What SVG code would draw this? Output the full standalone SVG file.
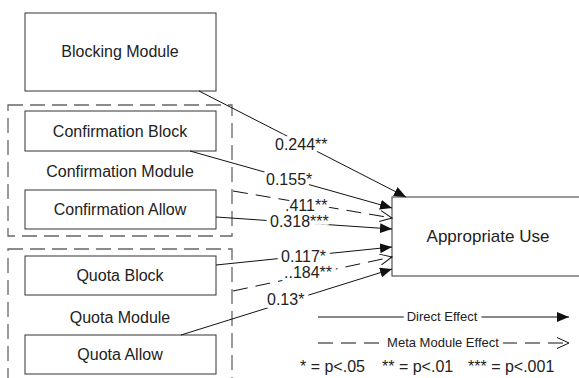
<svg xmlns="http://www.w3.org/2000/svg" width="579" height="378" viewBox="0 0 579 378">
<style>
  .box { fill: #fff; stroke: #333; stroke-width: 1; }
  .grp { fill: none; stroke: #666; stroke-width: 1.3; stroke-dasharray: 15 7; }
  .t { font-family: "Liberation Sans", Arial, sans-serif; font-size: 16px; fill: #222; text-anchor: middle; }
  .lbl { font-family: "Liberation Sans", Arial, sans-serif; font-size: 16px; fill: #222; paint-order: stroke; stroke: #fff; stroke-width: 8; stroke-linejoin: round; }
  .leg { font-family: "Liberation Sans", Arial, sans-serif; font-size: 13px; fill: #222; text-anchor: middle; paint-order: stroke; stroke: #fff; stroke-width: 8; }
  .note { font-family: "Liberation Sans", Arial, sans-serif; font-size: 16px; fill: #222; }
  .solid { fill: none; stroke: #111; stroke-width: 1; marker-end: url(#arr); }
  .dash { fill: none; stroke: #111; stroke-width: 1; stroke-dasharray: 15 8; marker-end: url(#chev); }
</style>
<defs>
  <marker id="arr" markerUnits="userSpaceOnUse" markerWidth="12" markerHeight="10" refX="12" refY="5" orient="auto">
    <path d="M0,0 L12,5 L0,10 z" fill="#111"/>
  </marker>
  <marker id="chev" markerUnits="userSpaceOnUse" markerWidth="13" markerHeight="12" refX="12" refY="6" orient="auto">
    <path d="M0,0.5 L12,6 L0,11.5" fill="none" stroke="#111" stroke-width="1"/>
  </marker>
</defs>

<g id="confirmation-module">
  <rect class="grp" x="8" y="105" width="224" height="131"/>
  <text class="t" x="120" y="177">Confirmation Module</text>
</g>
<g id="quota-module">
  <rect class="grp" x="8" y="249" width="224" height="140"/>
  <text class="t" x="120" y="323">Quota Module</text>
</g>

<g id="blocking-module">
  <rect class="box" x="25" y="13" width="191" height="78"/>
  <text class="t" x="120" y="57">Blocking Module</text>
</g>
<g id="confirmation-block">
  <rect class="box" x="25" y="111" width="191" height="40"/>
  <text class="t" x="120" y="137">Confirmation Block</text>
</g>
<g id="confirmation-allow">
  <rect class="box" x="25" y="190" width="191" height="39"/>
  <text class="t" x="120" y="215">Confirmation Allow</text>
</g>
<g id="quota-block">
  <rect class="box" x="25" y="256" width="191" height="39"/>
  <text class="t" x="120" y="281">Quota Block</text>
</g>
<g id="quota-allow">
  <rect class="box" x="25" y="335" width="191" height="39"/>
  <text class="t" x="120" y="360">Quota Allow</text>
</g>
<g id="appropriate-use">
  <rect class="box" x="392" y="197" width="200" height="79"/>
  <text class="t" x="488" y="242" style="font-size:17px">Appropriate Use</text>
</g>

<g id="connectors">
  <path class="solid" d="M199,91 L406,197"/>
  <path class="solid" d="M190,151 L392,208"/>
  <path class="dash" d="M233,191 L392,218"/>
  <path class="solid" d="M216,217 L392,229"/>
  <path class="solid" d="M216,265 L392,247"/>
  <path class="dash" d="M233,291 L392,257"/>
  <path class="solid" d="M181,335 L392,269"/>
  <text class="lbl" x="275" y="150">0.244**</text>
  <text class="lbl" x="266" y="185">0.155*</text>
  <text class="lbl" x="285" y="211">.411**</text>
  <text class="lbl" x="270" y="227">0.318***</text>
  <text class="lbl" x="281" y="262">0.117*</text>
  <text class="lbl" x="284" y="278">..184**</text>
  <text class="lbl" x="267" y="305">0.13*</text>
</g>

<g id="legend">
  <path class="solid" d="M318,317 L569,317"/>
  <text class="leg" x="442" y="321">Direct Effect</text>
  <path class="dash" d="M318,343 L569,343"/>
  <text class="leg" x="443" y="347">Meta Module Effect</text>
  <text class="note" x="300" y="372">* = p&lt;.05</text>
  <text class="note" x="382" y="372">** = p&lt;.01</text>
  <text class="note" x="468" y="372">*** = p&lt;.001</text>
</g>
</svg>
